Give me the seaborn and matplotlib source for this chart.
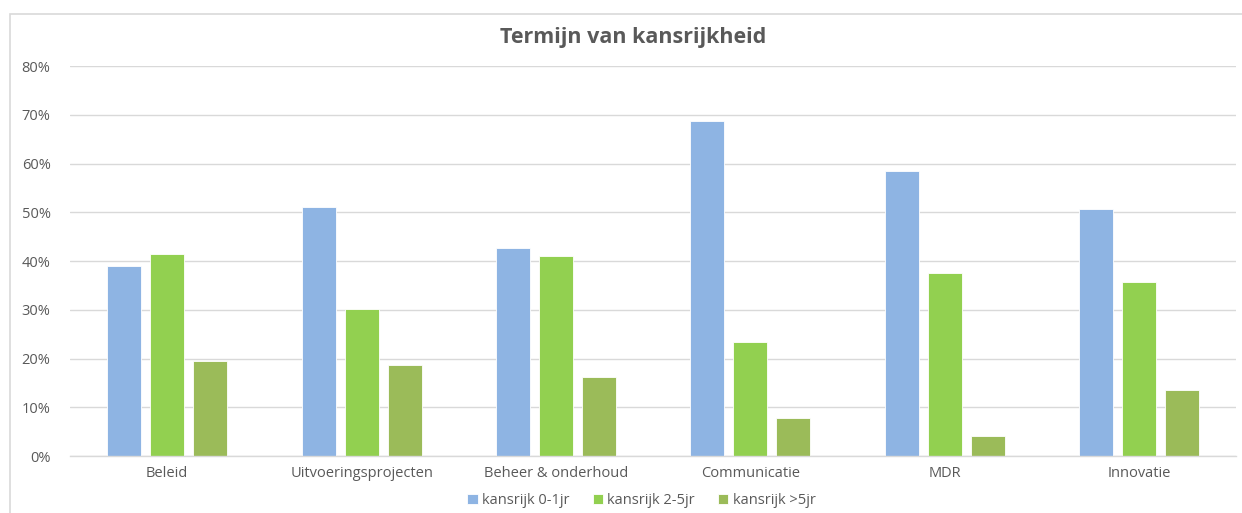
import pandas as pd
import matplotlib
matplotlib.use("Agg")
import matplotlib.pyplot as plt
import seaborn as sns
from matplotlib.patches import Rectangle
from matplotlib.ticker import MultipleLocator, PercentFormatter

categories = ["Beleid", "Uitvoeringsprojecten", "Beheer & onderhoud",
              "Communicatie", "MDR", "Innovatie"]
series = ["kansrijk 0-1jr", "kansrijk 2-5jr", "kansrijk >5jr"]
short_term = [39.0, 51.1, 42.7, 68.7, 58.5, 50.7]
mid_term = [41.5, 30.2, 41.0, 23.4, 37.5, 35.7]
long_term = [19.5, 18.7, 16.2, 7.8, 4.1, 13.5]
colors = ["#8EB4E3", "#92D050", "#9BBB59"]

df = pd.DataFrame({
    "categorie": categories * 3,
    "reeks": [s for s in series for _ in categories],
    "waarde": short_term + mid_term + long_term,
})

sns.set_theme(style="white")
plt.rcParams["font.family"] = ["Open Sans", "DejaVu Sans"]
text_col = "#595959"

fig = plt.figure(figsize=(12.42, 5.13), dpi=100)
ax = fig.add_axes([0.0564, 0.111, 0.939, 0.760])
fig.patches.append(Rectangle((10 / 1242, -0.1), 1.2, (513 - 14) / 513 + 0.1,
                             transform=fig.transFigure, fill=False,
                             edgecolor="#D9D9D9", linewidth=1.2))

sns.barplot(data=df, x="categorie", y="waarde", hue="reeks", palette=colors,
            saturation=1, width=0.663, gap=0.21, ax=ax,
            edgecolor="white", linewidth=0.6)

ax.set_xlim(-0.5, 5.5)
ax.set_ylim(0, 80)
ax.yaxis.set_major_locator(MultipleLocator(10))
ax.yaxis.set_major_formatter(PercentFormatter(decimals=0))
ax.grid(axis="y", color="#D9D9D9", linewidth=1)
ax.set_axisbelow(True)
for side in ["top", "right", "left"]:
    ax.spines[side].set_visible(False)
ax.spines["bottom"].set_color("#D9D9D9")
ax.spines["bottom"].set_linewidth(1)
ax.tick_params(axis="both", length=0, labelsize=10.5, colors=text_col, pad=7)
ax.tick_params(axis="y", pad=14)
ax.set_xlabel("")
ax.set_ylabel("")

fig.text(0.51, 0.926, "Termijn van kansrijkheid", ha="center", va="center",
         fontsize=15.5, fontweight="bold", color=text_col)

ax.legend(loc="center", bbox_to_anchor=(0.49, -0.115), ncol=3, frameon=False,
          fontsize=10.5, labelcolor=text_col, handlelength=0.7, handleheight=0.7,
          handletextpad=0.3, columnspacing=1.6)

fig.savefig("out.png", dpi=100)
